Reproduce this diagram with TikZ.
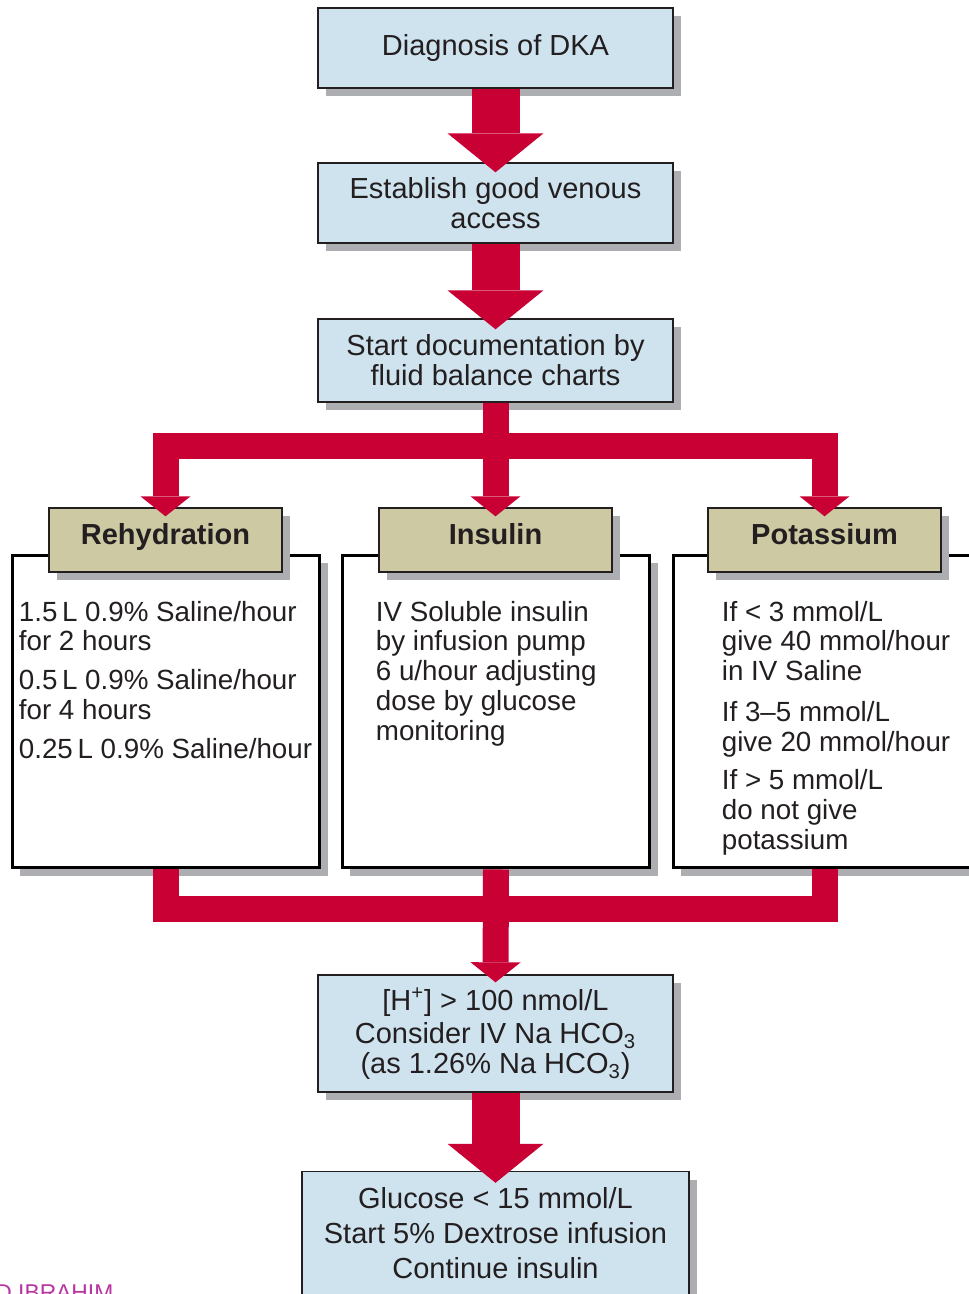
\documentclass[tikz,border=0pt]{standalone}
\usepackage{fontspec}
\setmainfont{Liberation Sans}
\usepackage{tikz}
\usetikzlibrary{arrows.meta,positioning,calc,shadows}
\definecolor{DKARed}{RGB}{200,0,52}
\definecolor{stepBlue}{RGB}{207,227,239}
\definecolor{headTan}{RGB}{205,201,163}
\definecolor{shadowGray}{RGB}{172,174,178}
\definecolor{inkGray}{RGB}{35,31,32}
\definecolor{markMagenta}{RGB}{184,52,160}

\begin{document}
\begin{tikzpicture}[x=0.02cm,y=-0.02cm,
  font=\fontsize{16.5}{17}\selectfont, text=inkGray,
  boxshadow/.style={drop shadow={shadow xshift=0.16cm,shadow yshift=-0.16cm,fill=shadowGray,opacity=1}},
  stepbox/.style={draw=inkGray,line width=0.8pt,fill=stepBlue,boxshadow,minimum width=7.1cm,
    align=center,inner sep=2pt},
  headbox/.style={draw=inkGray,line width=0.8pt,fill=headTan,boxshadow,minimum width=4.66cm,
    minimum height=1.28cm,text height=0.72em,text depth=0.22em,font=\fontsize{16.5}{17}\selectfont\bfseries},
  bodybox/.style={draw=black,line width=1.7pt,fill=white,boxshadow,minimum width=6.16cm,minimum height=6.26cm},
  bodytext/.style={anchor=north west,align=left,inner sep=0pt,font=\fontsize{15.8}{17}\selectfont},
  bigarrow/.style={DKARed,line width=0.96cm,-{Triangle[width=1.92cm,length=0.78cm,line width=0pt]}},
  fork/.style={DKARed,line width=0.52cm,line join=miter},
  forkarrow/.style={fork,-{Triangle[width=1.0cm,length=0.4cm,line width=0pt]}}
]
\path[use as bounding box] (0,0) rectangle (969,1294);
\clip (0,0) rectangle (969,1294);
% Steps before treatment
\node[stepbox,minimum height=1.6cm] (diag) at (495.5,48) {Diagnosis of DKA};
\node[stepbox,minimum height=1.6cm] (access) at (495.5,203) {Establish good venous\\access};
\node[stepbox,minimum height=1.66cm] (chart) at (495.5,360.5) {Start documentation by\\fluid balance charts};
% Three treatment columns
\node[bodybox] (bRe) at (166,711.5) {};
\node[bodybox] (bIn) at (496,711.5) {};
\node[bodybox] (bPo) at (827,711.5) {};
\node[headbox] (hRe) at (165.5,540) {Rehydration};
\node[headbox] (hIn) at (495.5,540) {Insulin};
\node[headbox] (hPo) at (824.5,540) {Potassium};
\node[bodytext] (tRe) at ($(bRe.north west)+(8,47)$) {1.5\,L 0.9\% Saline/hour\\for 2 hours\\[5pt]
  0.5\,L 0.9\% Saline/hour\\for 4 hours\\[5pt]0.25\,L 0.9\% Saline/hour};
\node[bodytext] (tIn) at ($(bIn.north west)+(35,47)$) {IV Soluble insulin\\by infusion pump\\
  6 u/hour adjusting\\dose by glucose\\monitoring};
\node[bodytext] (tPo) at ($(bPo.north west)+(50,47)$) {If < 3 mmol/L\\give 40 mmol/hour\\in IV Saline\\[6pt]
  If 3--5 mmol/L\\give 20 mmol/hour\\[5pt]If > 5 mmol/L\\do not give\\potassium};
% Steps after treatment
\node[stepbox,minimum height=2.34cm] (nahco) at (495.5,1033.5) {[H\textsuperscript{+}] > 100 nmol/L\\[2pt]
  Consider IV Na HCO\textsubscript{3}\\(as 1.26\% Na HCO\textsubscript{3})};
\node[stepbox,minimum width=7.74cm,minimum height=2.46cm] (gluc) at (495.5,1233) {Glucose < 15 mmol/L\\[3pt]
  Start 5\% Dextrose infusion\\[3pt]Continue insulin};
\node[anchor=base west,inner sep=0pt,text=markMagenta,font=\fontsize{13}{13}\selectfont] (mark) at (-5,1300) {D IBRAHIM};
% Arrows
\draw[bigarrow] (diag.south) -- ($(access.north)+(0,10)$);
\draw[bigarrow] (access.south) -- ($(chart.north)+(0,11)$);
\path (chart.south) ++(0,43) coordinate (split);
\draw[forkarrow] (chart.south) -- ($(hIn.north)+(0,9)$);
\draw[forkarrow] (split) -| ($(hRe.north)+(0,9)$);
\draw[forkarrow] (split) -| ($(hPo.north)+(0,9)$);
\path (bIn.south) ++(0,39.5) coordinate (merge);
\draw[fork] (bRe.south -| hRe) |- (merge);
\draw[fork] (bPo.south -| hPo) |- (merge);
\draw[forkarrow] (bIn.south) -- ($(nahco.north)+(0,8)$);
\draw[bigarrow] (nahco.south) -- ($(gluc.north)+(0,12)$);
\end{tikzpicture}
\end{document}
